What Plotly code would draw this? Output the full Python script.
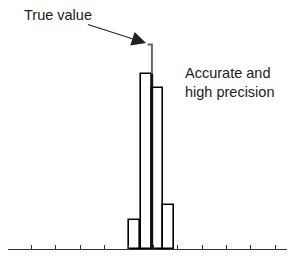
import plotly.graph_objects as go

# Data
bin_centers = [5.23, 5.70, 6.16, 6.62]
counts = [2, 12, 11, 3]
bin_width = 0.45
true_value = 5.94
true_marker_height = 14.0
tick_values = list(range(0, 12))

FONT = "Liberation Sans, Arial, sans-serif"

fig = go.Figure()

fig.add_trace(go.Bar(
    x=bin_centers, y=counts, width=bin_width,
    marker=dict(color="white", line=dict(color="black", width=1.6)),
    showlegend=False, hoverinfo="skip",
))

# true value line (grey above the bars, dark through them)
fig.add_trace(go.Scatter(
    x=[true_value - 0.18, true_value, true_value],
    y=[true_marker_height, true_marker_height, 0],
    mode="lines", line=dict(color="#666666", width=2),
    showlegend=False, hoverinfo="skip",
))
fig.add_trace(go.Scatter(
    x=[true_value, true_value], y=[0, counts[1]],
    mode="lines", line=dict(color="#111111", width=2.5),
    showlegend=False, hoverinfo="skip",
))

fig.add_annotation(
    x=true_value - 0.24, y=true_marker_height + 0.1,
    text="True value", showarrow=True,
    ax=-88, ay=-28, arrowhead=2, arrowsize=2.6, arrowwidth=1.1,
    arrowcolor="#222222", standoff=0,
    font=dict(family=FONT, size=14.5, color="#222222"),
)
fig.add_annotation(
    x=7.21, y=11.37, xanchor="left", yanchor="middle",
    text="Accurate and<br>high precision", showarrow=False, align="left",
    font=dict(family=FONT, size=14.5, color="#222222"),
)

# page body has an 8px margin, so the figure is sized to fit the window
fig.update_layout(
    width=287, height=250,
    margin=dict(l=0, r=5, t=0, b=9),
    paper_bgcolor="white", plot_bgcolor="white",
    bargap=0,
    xaxis=dict(range=[0.041, 11.6], showgrid=False, zeroline=False,
               showline=True, linecolor="#333333", linewidth=1.2,
               ticks="inside", ticklen=4, tickcolor="#333333",
               tickvals=tick_values, showticklabels=False),
    yaxis=dict(range=[0, 16.5], showgrid=False, zeroline=False,
               showline=False, showticklabels=False, ticks=""),
)

fig.write_html("out.html")
